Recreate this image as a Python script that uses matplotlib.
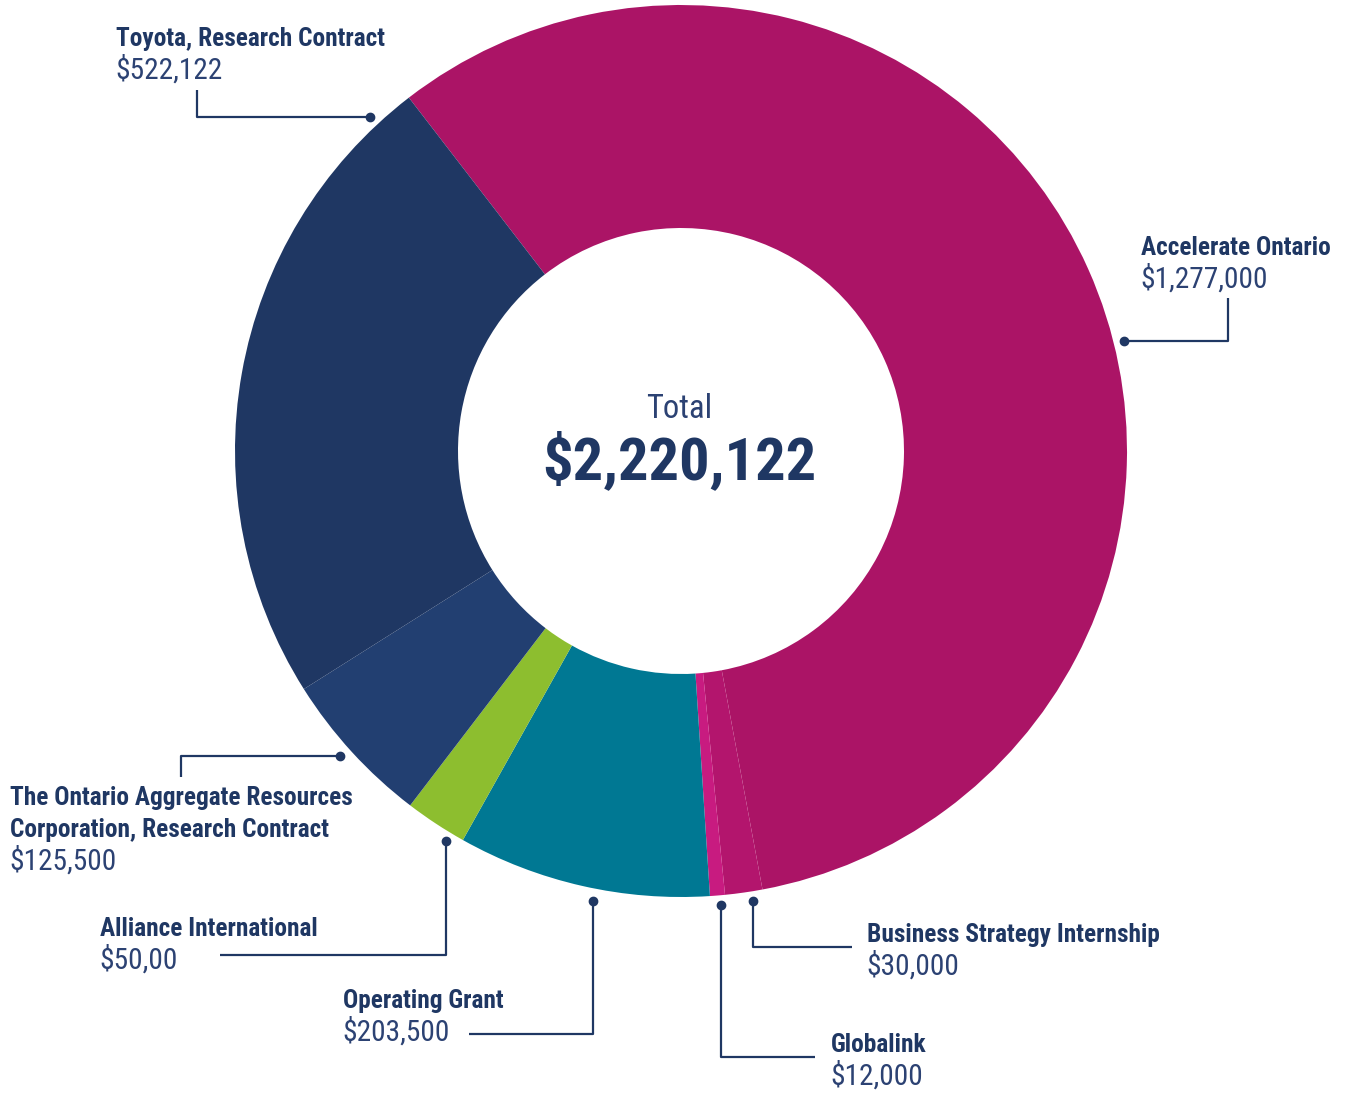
import matplotlib
matplotlib.use("Agg")
import matplotlib.pyplot as plt
from matplotlib import font_manager

# funding sources (clockwise from top)
sources = ["Accelerate Ontario", "Business Strategy Internship", "Globalink",
           "Operating Grant", "Alliance International",
           "The Ontario Aggregate Resources\nCorporation, Research Contract",
           "Toyota, Research Contract"]
amounts = [1277000, 30000, 12000, 203500, 50000, 125500, 522122]
amount_labels = ["$1,277,000", "$30,000", "$12,000", "$203,500", "$50,00",
                 "$125,500", "$522,122"]
colors = ["#AB1466", "#B3156D", "#C81B80", "#007893", "#8DBE2F",
          "#223F71", "#1F3763"]
total_label = "$2,220,122"

W, H = 1347, 1094
NAVY = "#1F3763"

installed = {f.name for f in font_manager.fontManager.ttflist}
fam = [f for f in ["Roboto Condensed", "Liberation Sans Narrow",
                   "DejaVu Sans"] if f in installed]
narrow = fam[0] != "DejaVu Sans"
stretch = "normal" if narrow else "condensed"
plt.rcParams["font.family"] = fam
# font sizes (bold label, value, "Total", big total)
if narrow:
    fs_lab, fs_val, fs_tot, fs_big = 18.3, 21.2, 23.5, 43.5
else:
    fs_lab, fs_val, fs_tot, fs_big = 14.6, 16.8, 22, 33

fig = plt.figure(figsize=(W / 100, H / 100), dpi=100)
ax = fig.add_axes([0, 0, 1, 1])

cx, cy, r = 681, 451, 446
ax.pie(amounts, colors=colors, startangle=127.6, counterclock=False,
       center=(cx, H - cy), radius=r,
       wedgeprops=dict(width=r * 0.5, linewidth=0))
ax.set_xlim(0, W)
ax.set_ylim(0, H)
ax.set_aspect("equal", adjustable="box")
ax.axis("off")


def y(py):
    return H - py


# label layout: text x, bold baseline, leader path (pixel coords, ends at dot)
layout = {
    "Toyota, Research Contract": (116, 46, [(197, 90), (197, 117), (370, 117)]),
    "Accelerate Ontario": (1141, 255, [(1228, 298), (1228, 341), (1124, 341)]),
    "The Ontario Aggregate Resources\nCorporation, Research Contract":
        (10, 805, [(181, 777), (181, 756), (340, 756)]),
    "Alliance International": (100, 936, [(220, 955), (446, 955), (446, 841)]),
    "Operating Grant": (343, 1008, [(469, 1034), (593, 1034), (593, 901)]),
    "Globalink": (831, 1052, [(815, 1057), (721, 1057), (721, 905)]),
    "Business Strategy Internship": (867, 942, [(852, 947), (753, 947), (753, 901)]),
}

for name, val in zip(sources, amount_labels):
    tx, base, path = layout[name]
    lines = name.split("\n")
    for i, ln in enumerate(lines):
        ax.text(tx, y(base + i * 32), ln, ha="left", va="baseline",
                fontsize=fs_lab, fontweight="bold", color=NAVY,
                fontstretch=stretch)
    ax.text(tx - 1, y(base + len(lines) * 32 + 1), val, ha="left",
            va="baseline", fontsize=fs_val, color="#2C4273",
            fontstretch=stretch)
    xs = [p[0] for p in path]
    ys = [y(p[1]) for p in path]
    ax.plot(xs, ys, color=NAVY, lw=1.6, solid_capstyle="butt")
    ax.plot(xs[-1], ys[-1], "o", color=NAVY, ms=6)

ax.text(cx - 2, y(418), "Total", ha="center", va="baseline", fontsize=fs_tot,
        color="#2C4273", fontstretch=stretch)
ax.text(cx - 2, y(479), total_label, ha="center", va="baseline",
        fontsize=fs_big, fontweight="bold", color=NAVY, fontstretch=stretch)

fig.savefig("out.png", dpi=100)
